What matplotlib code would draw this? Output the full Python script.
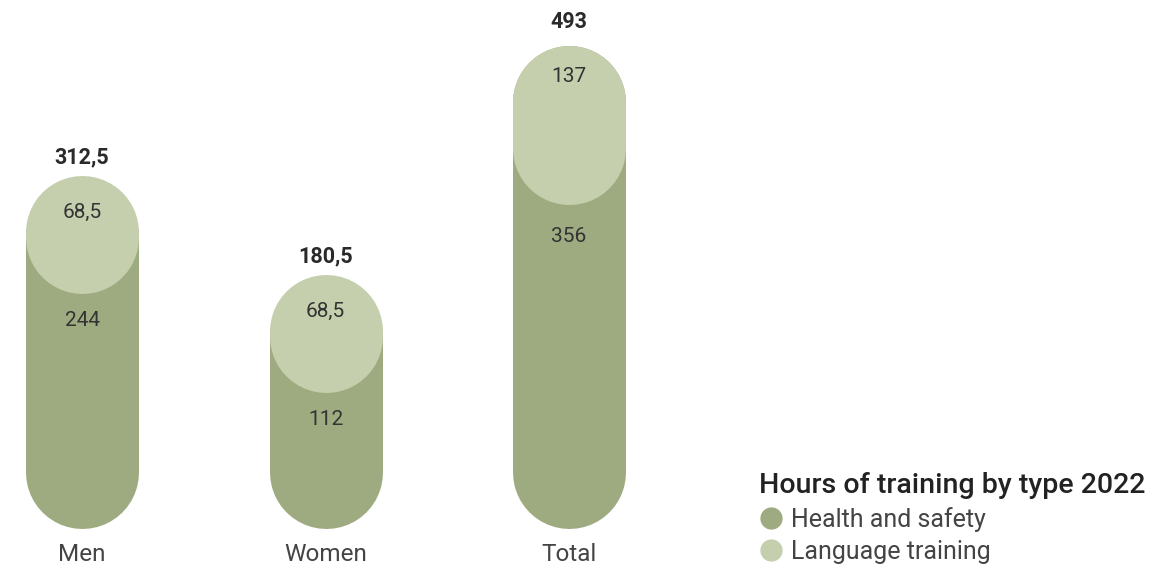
import matplotlib.pyplot as plt
from matplotlib.lines import Line2D

# datos
categorias = ["Men", "Women", "Total"]
salud = [244, 112, 356]          # Health and safety
idiomas = [68.5, 68.5, 137]      # Language training
totales = [312.5, 180.5, 493]
etiquetas_total = ["312,5", "180,5", "493"]
etiquetas_salud = ["244", "112", "356"]
etiquetas_idiomas = ["68,5", "68,5", "137"]

c_oscuro = "#9eab80"
c_claro = "#c5cfad"
c_texto = "#333333"

plt.rcParams["font.family"] = ["Roboto", "DejaVu Sans"]

fig = plt.figure(figsize=(11.73, 5.69), dpi=100)
ax = fig.add_axes([0, 0, 1, 1])
ax.set_xlim(-0.3368, 4.4805)
ax.set_ylim(-130, 628.7)
ax.axis("off")

ancho_pt = 113 * 72 / 100  # ancho de barra en puntos

# radio de la punta redondeada en unidades de datos
inv = ax.transData.inverted()
r_datos = inv.transform((0, 56.5))[1] - inv.transform((0, 0))[1]

for i, cat in enumerate(categorias):
    # barra completa (capsula oscura)
    ax.plot([i, i], [0, totales[i]], color=c_oscuro, lw=ancho_pt,
            solid_capstyle="round", zorder=1)
    # parte superior (capsula clara)
    ax.plot([i, i], [salud[i] + r_datos, totales[i]], color=c_claro, lw=ancho_pt,
            solid_capstyle="round", zorder=2)

    ax.annotate(etiquetas_total[i], (i, totales[i]), xytext=(0, 57.5),
                textcoords="offset points", ha="center", va="center",
                fontsize=15.5, fontweight="bold", color="#2a2a2a")
    ax.annotate(etiquetas_idiomas[i], (i, totales[i]), xytext=(0, 18),
                textcoords="offset points", ha="center", va="center",
                fontsize=15, color=c_texto, zorder=3)
    ax.annotate(etiquetas_salud[i], (i, salud[i]), xytext=(0, -23),
                textcoords="offset points", ha="center", va="center",
                fontsize=15, color=c_texto, zorder=3)
    ax.annotate(cat, (i, 0), xytext=(0, -59.4), textcoords="offset points",
                ha="center", va="center", fontsize=17.5,
                color="#444444")

handles = [
    Line2D([], [], marker="o", ls="none", ms=15, color=c_oscuro, label="Health and safety"),
    Line2D([], [], marker="o", ls="none", ms=15, color=c_claro, label="Language training"),
]
leg = fig.legend(handles=handles, loc="lower left", bbox_to_anchor=(0.634, -0.018),
                 frameon=False, title="Hours of training by type 2022",
                 title_fontproperties={"size": 20.5, "weight": "medium"},
                 prop={"size": 18}, alignment="left",
                 handletextpad=0.3, labelspacing=0.33, handlelength=1.0,
                 borderaxespad=0.2)
for t in leg.get_texts():
    t.set_color("#444444")
leg.get_title().set_color("#222222")

fig.savefig("out.png", dpi=100)
